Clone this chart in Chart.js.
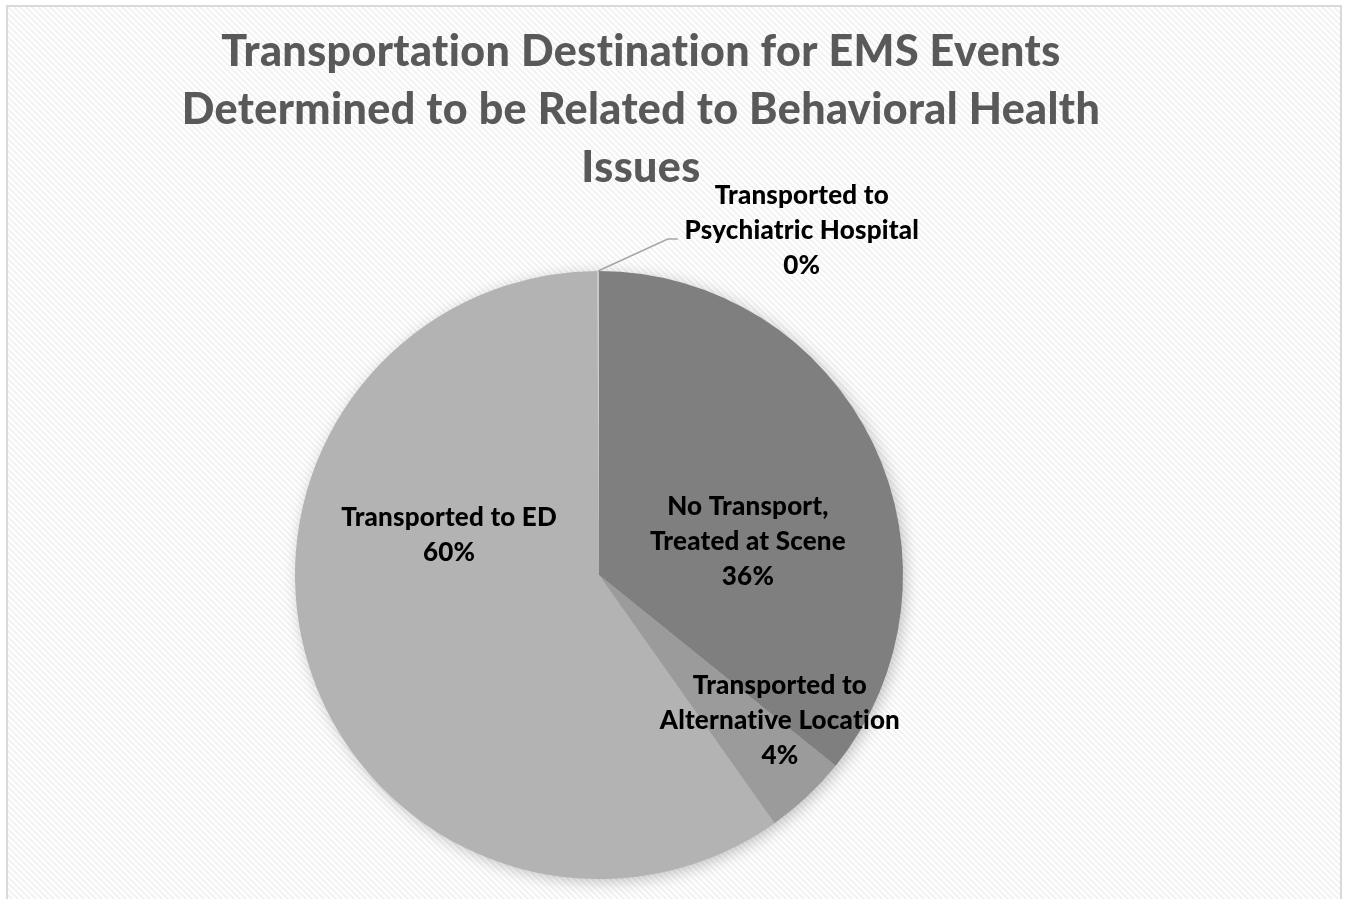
<!DOCTYPE html>
<html>
<head>
<meta charset="utf-8">
<script src="https://cdn.jsdelivr.net/npm/chart.js@4"></script>
<style>
  body { margin: 0; background: #fff; }
  #wrap { width: 1347px; height: 899px; }
</style>
</head>
<body>
<div id="wrap"><canvas id="graficoPizza" width="1347" height="899"></canvas></div>
<script>
// Dados do gráfico
const categorias = [
    'No Transport, Treated at Scene',
    'Transported to Alternative Location',
    'Transported to ED',
    'Transported to Psychiatric Hospital'
];
const linhasRotulo = [
    ['No Transport,', 'Treated at Scene'],
    ['Transported to', 'Alternative Location'],
    ['Transported to ED'],
    ['Transported to', 'Psychiatric Hospital']
];
const percentuais = [35.8, 4.4, 59.7, 0.1];
const coresFatias = ['#7f7f7f', '#9b9b9b', '#b3b3b3', '#cccccc'];
const linhasTitulo = [
    'Transportation Destination for EMS Events',
    'Determined to be Related to Behavioral Health',
    'Issues'
];

// posição dos rótulos, em frações do raio a partir do centro da pizza
const posRotulos = [
    { fx: 0.49, fy: -0.197 },
    { fx: 0.595, fy: 0.39 },
    { fx: -0.493, fy: -0.16 },
    { fx: 0.667, fy: -1.22 }
];

// fundo listrado + borda
const fundo = {
    id: 'fundo',
    beforeDraw(chart) {
        const ctx = chart.ctx;
        const tile = document.createElement('canvas');
        tile.width = 6; tile.height = 6;
        const tctx = tile.getContext('2d');
        const img = tctx.createImageData(6, 6);
        for (let y = 0; y < 6; y++) {
            for (let x = 0; x < 6; x++) {
                const i = (y * 6 + x) * 4;
                const d = ((x - y) % 6 + 6) % 6;
                const v = d < 3 ? 243 : 255;
                img.data[i] = v; img.data[i + 1] = v; img.data[i + 2] = v; img.data[i + 3] = 255;
            }
        }
        tctx.putImageData(img, 0, 0);
        ctx.save();
        ctx.fillStyle = '#fff';
        ctx.fillRect(0, 0, chart.width, chart.height);
        ctx.fillStyle = ctx.createPattern(tile, 'repeat');
        ctx.fillRect(7, 6, 1334, 900);
        ctx.strokeStyle = '#d9d9d9';
        ctx.lineWidth = 2;
        ctx.strokeRect(7, 6, 1334, 900);
        ctx.restore();
    },
    beforeDatasetsDraw(chart) {
        // sombra suave atrás da pizza
        const arc = chart.getDatasetMeta(0).data[0];
        const ctx = chart.ctx;
        ctx.save();
        ctx.shadowColor = 'rgba(0,0,0,0.25)';
        ctx.shadowBlur = 16;
        ctx.shadowOffsetX = 3;
        ctx.shadowOffsetY = 3;
        ctx.fillStyle = '#b3b3b3';
        ctx.beginPath();
        ctx.arc(arc.x, arc.y, arc.outerRadius - 1, 0, Math.PI * 2);
        ctx.fill();
        ctx.restore();
    }
};

// rótulos de dados e título
const rotulos = {
    id: 'rotulos',
    afterDatasetsDraw(chart) {
        const ctx = chart.ctx;
        const meta = chart.getDatasetMeta(0);
        const total = percentuais.reduce((a, b) => a + b, 0);
        ctx.save();
        ctx.fillStyle = '#000';
        ctx.font = '900 26px Lato';
        ctx.letterSpacing = '0.2px';
        ctx.textAlign = 'center';
        ctx.textBaseline = 'alphabetic';
        meta.data.forEach((arc, i) => {
            const r = arc.outerRadius;
            const x = arc.x + posRotulos[i].fx * r;
            let y = arc.y + posRotulos[i].fy * r;
            const linhas = linhasRotulo[i].concat(Math.round(percentuais[i] / total * 100) + '%');
            linhas.forEach(l => { ctx.fillText(l, x, y); y += 35; });
            if (i === 3) {
                // linha de chamada
                const meio = (arc.startAngle + arc.endAngle) / 2;
                const sx = arc.x + Math.cos(meio) * r;
                const sy = arc.y + Math.sin(meio) * r;
                ctx.strokeStyle = '#a6a6a6';
                ctx.lineWidth = 1.5;
                ctx.beginPath();
                ctx.moveTo(sx, sy);
                ctx.lineTo(x - 134, arc.y - 1.105 * r);
                ctx.lineTo(x - 124, arc.y - 1.105 * r);
                ctx.stroke();
            }
        });
        ctx.restore();
    },
    afterDraw(chart) {
        const ctx = chart.ctx;
        ctx.save();
        ctx.fillStyle = '#595959';
        ctx.font = '900 43px Lato';
        ctx.letterSpacing = '0.4px';
        ctx.textAlign = 'center';
        ctx.textBaseline = 'alphabetic';
        linhasTitulo.forEach((l, i) => ctx.fillText(l, 641, 66 + i * 58));
        ctx.restore();
    }
};

const ctxPizza = document.getElementById('graficoPizza').getContext('2d');

const graficoPizza = new Chart(ctxPizza, {
    type: 'pie',
    data: {
        labels: categorias,
        datasets: [{
            data: percentuais,
            backgroundColor: coresFatias,
            borderWidth: 0
        }]
    },
    options: {
        responsive: false,
        animation: false,
        layout: {
            padding: { left: 295, right: 444, top: 271, bottom: 20 }
        },
        plugins: {
            legend: { display: false },
            tooltip: { enabled: false },
            title: { display: false }
        }
    },
    plugins: [fundo, rotulos]
});
</script>
</body>
</html>
